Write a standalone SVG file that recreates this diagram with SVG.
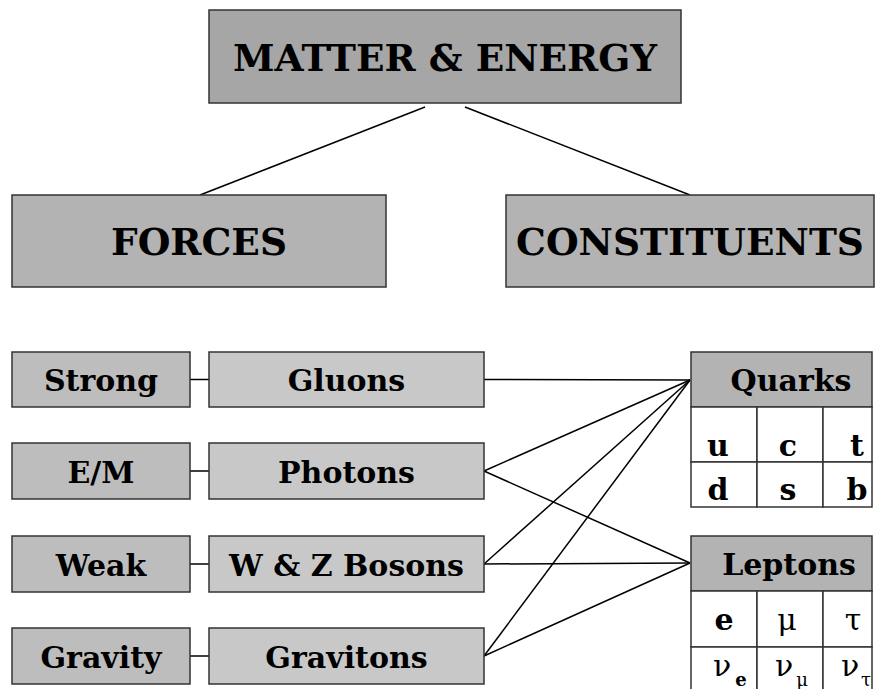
<svg xmlns="http://www.w3.org/2000/svg" width="875" height="689" viewBox="0 0 875 689">
<style>
  text { font-family: 'DejaVu Serif', serif; }
  .t { font-weight: bold; fill: #000; text-anchor: middle; }
  .g { font-weight: normal; fill: #000; text-anchor: middle; }
  .big { font-size: 37.5px; }
  .mid { font-size: 30px; }
  .box { stroke: #333; stroke-width: 1.5; }
  .top { fill: #a6a6a6; }
  .cat { fill: #b3b3b3; }
  .force { fill: #bdbdbd; }
  .boson { fill: #c8c8c8; }
  .cell { fill: #fff; stroke: #333; stroke-width: 1.5; }
  .conn line { stroke: #000; stroke-width: 1.5; }
</style>
<rect width="875" height="689" fill="#fff"/>

<g class="conn" id="connectors">
  <line x1="425" y1="107" x2="200" y2="195"/>
  <line x1="465" y1="107" x2="690" y2="195"/>
  <line x1="190" y1="379.5" x2="209" y2="379.5"/>
  <line x1="190" y1="471" x2="209" y2="471"/>
  <line x1="190" y1="564" x2="209" y2="564"/>
  <line x1="190" y1="656" x2="209" y2="656"/>
  <line x1="484" y1="379.5" x2="690" y2="380"/>
  <line x1="484" y1="471" x2="690" y2="380"/>
  <line x1="484" y1="564" x2="690" y2="380"/>
  <line x1="484" y1="656" x2="690" y2="380"/>
  <line x1="484" y1="471" x2="690" y2="563"/>
  <line x1="484" y1="564" x2="690" y2="563"/>
  <line x1="484" y1="656" x2="690" y2="563"/>
</g>

<g id="matter-energy">
  <rect class="box top" x="209" y="10" width="472" height="93"/>
  <text class="t big" x="445" y="71">MATTER &amp; ENERGY</text>
</g>
<g id="forces">
  <rect class="box cat" x="12" y="195" width="374" height="92"/>
  <text class="t big" x="199" y="255">FORCES</text>
</g>
<g id="constituents">
  <rect class="box cat" x="506" y="195" width="368" height="92"/>
  <text class="t big" x="690" y="255">CONSTITUENTS</text>
</g>

<g id="strong">
  <rect class="box force" x="12" y="352" width="178" height="55"/>
  <text class="t mid" x="101" y="391">Strong</text>
</g>
<g id="em">
  <rect class="box force" x="12" y="443" width="178" height="56"/>
  <text class="t mid" x="101" y="482.5">E/M</text>
</g>
<g id="weak">
  <rect class="box force" x="12" y="536" width="178" height="56"/>
  <text class="t mid" x="101" y="575.5">Weak</text>
</g>
<g id="gravity">
  <rect class="box force" x="12" y="628" width="178" height="56"/>
  <text class="t mid" x="101" y="667.5">Gravity</text>
</g>

<g id="gluons">
  <rect class="box boson" x="209" y="352" width="275" height="55"/>
  <text class="t mid" x="346.5" y="391">Gluons</text>
</g>
<g id="photons">
  <rect class="box boson" x="209" y="443" width="275" height="56"/>
  <text class="t mid" x="346.5" y="482.5">Photons</text>
</g>
<g id="wz-bosons">
  <rect class="box boson" x="209" y="536" width="275" height="56"/>
  <text class="t mid" x="346.5" y="575.5">W &amp; Z Bosons</text>
</g>
<g id="gravitons">
  <rect class="box boson" x="209" y="628" width="275" height="56"/>
  <text class="t mid" x="346.5" y="667.5">Gravitons</text>
</g>

<g id="quarks">
  <rect class="box cat" x="691" y="352" width="181" height="55"/>
  <text class="t mid" x="791" y="391">Quarks</text>
  <rect class="cell" x="691" y="407" width="66" height="55"/>
  <rect class="cell" x="757" y="407" width="66" height="55"/>
  <rect class="cell" x="823" y="407" width="49" height="55"/>
  <rect class="cell" x="691" y="462" width="66" height="45"/>
  <rect class="cell" x="757" y="462" width="66" height="45"/>
  <rect class="cell" x="823" y="462" width="49" height="45"/>
  <text class="t mid" x="718" y="456">u</text>
  <text class="t mid" x="788" y="456">c</text>
  <text class="t mid" x="857" y="456">t</text>
  <text class="t mid" x="718" y="500">d</text>
  <text class="t mid" x="788" y="500">s</text>
  <text class="t mid" x="857" y="500">b</text>
</g>

<g id="leptons">
  <rect class="box cat" x="691" y="536" width="181" height="55"/>
  <text class="t mid" x="789" y="575">Leptons</text>
  <rect class="cell" x="691" y="591" width="66" height="56"/>
  <rect class="cell" x="757" y="591" width="66" height="56"/>
  <rect class="cell" x="823" y="591" width="49" height="56"/>
  <rect class="cell" x="691" y="647" width="66" height="56"/>
  <rect class="cell" x="757" y="647" width="66" height="56"/>
  <rect class="cell" x="823" y="647" width="49" height="56"/>
  <text class="t mid" x="724" y="630">e</text>
  <text class="g mid" x="787" y="630">μ</text>
  <text class="g mid" x="853" y="630">τ</text>
  <text class="g mid" x="722" y="676">ν</text>
  <text class="t" font-size="18" x="741" y="686">e</text>
  <text class="g mid" x="784" y="676">ν</text>
  <text class="g" font-size="18" x="802" y="686">μ</text>
  <text class="g mid" x="850" y="676">ν</text>
  <text class="g" font-size="18" x="866" y="686">τ</text>
</g>
</svg>
